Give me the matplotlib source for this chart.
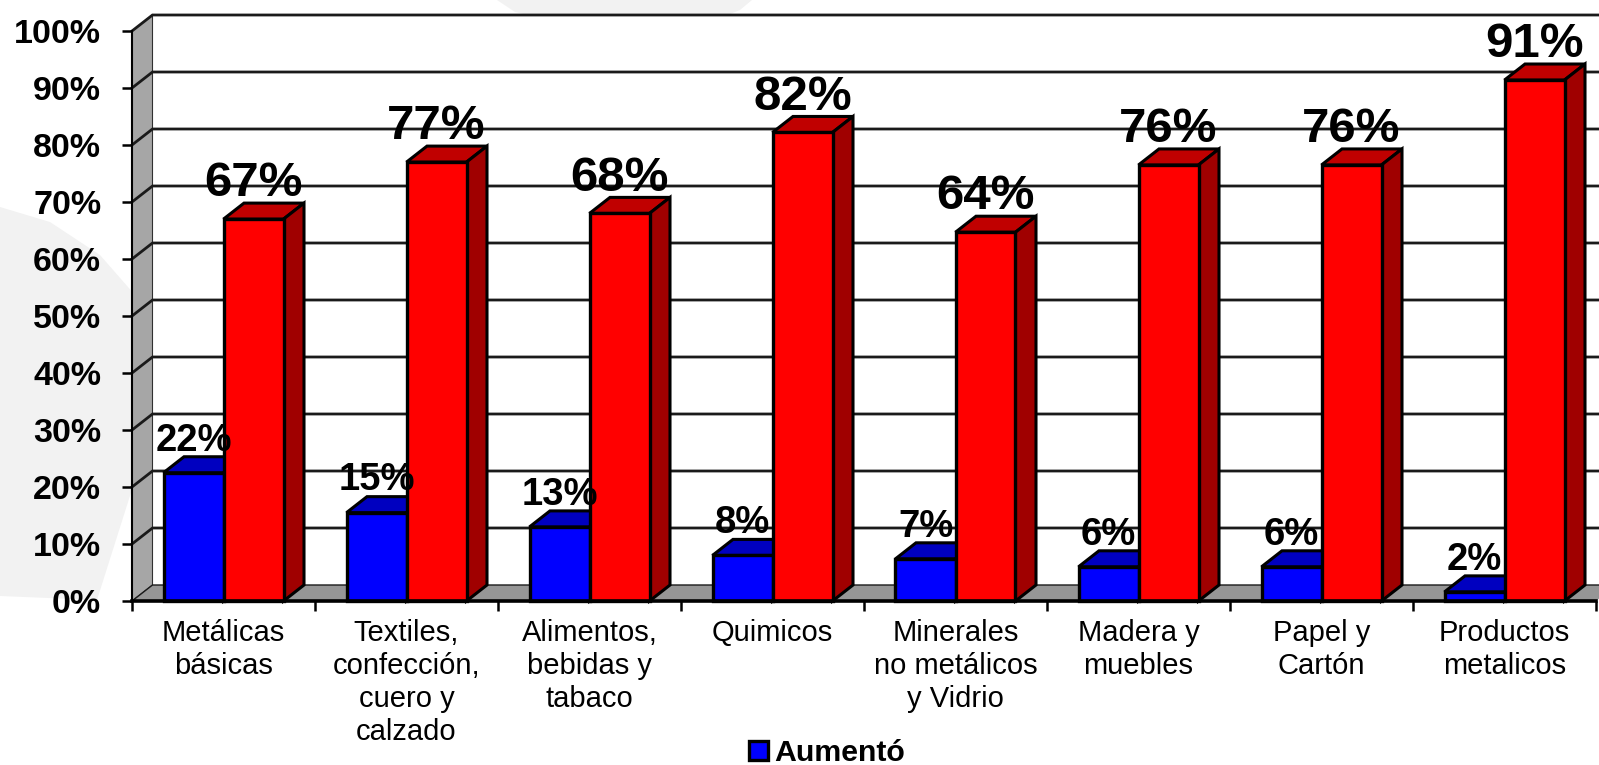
import numpy as np
import matplotlib
matplotlib.use("Agg")
import matplotlib.pyplot as plt
from matplotlib.patches import Patch, Polygon

categories = ["Metálicas\nbásicas", "Textiles,\nconfección,\ncuero y\ncalzado", "Alimentos,\nbebidas y\ntabaco",
              "Quimicos", "Minerales\nno metálicos\ny Vidrio", "Madera y\nmuebles", "Papel y\nCartón",
              "Productos\nmetalicos"]
aumento = [22.5, 15.5, 13, 8, 7.4, 6, 6, 1.6]
aumento_labels = ["22%", "15%", "13%", "8%", "7%", "6%", "6%", "2%"]
otro = [67, 77, 68, 82.2, 64.7, 76.5, 76.5, 91.4]
otro_labels = ["67%", "77%", "68%", "82%", "64%", "76%", "76%", "91%"]
y_ticks = list(range(0, 101, 10))

W, H = 1599, 765
LEFT, RIGHT, TOP, BOTTOM = 132, 1596, 31, 601
DX = 20.5 / 183   # depth of the fake 3d, in category units
DY = 16 / 5.7     # same, in percent units
BAR_W = 60 / 183

plt.rcParams["font.family"] = ["Liberation Sans", "DejaVu Sans"]

fig = plt.figure(figsize=(W / 100, H / 100), dpi=100, facecolor="white")

# faint watermark behind the chart
bg = fig.add_axes([0, 0, 1, 1], zorder=0)
bg.set_xlim(0, W)
bg.set_ylim(H, 0)
bg.axis("off")
bg.add_patch(Polygon([(0, 207), (50, 222), (100, 255), (135, 295), (135, 480), (97, 600), (0, 596)],
                     facecolor="#f2f2f2", edgecolor="none"))
bg.add_patch(Polygon([(497, 0), (515, 12), (540, 18), (720, 18), (740, 10), (752, 0)],
                     facecolor="#f2f2f2", edgecolor="none"))

ax = fig.add_axes([LEFT / W, (H - BOTTOM) / H, (RIGHT - LEFT) / W, (BOTTOM - TOP) / H], zorder=1)
ax.patch.set_alpha(0)
ax.set_xlim(0, 8)
ax.set_ylim(0, 100)
for side in ["top", "right"]:
    ax.spines[side].set_visible(False)
ax.spines["left"].set_linewidth(1.5)
ax.spines["bottom"].set_linewidth(2.6)
ax.spines["left"].set_zorder(6)
ax.spines["bottom"].set_zorder(6)

# walls and floor
ax.add_patch(Polygon([(DX, DY), (8 + DX, DY), (8 + DX, 100 + DY), (DX, 100 + DY)],
                     facecolor="white", edgecolor="none", clip_on=False, zorder=1))
ax.add_patch(Polygon([(0, 0), (DX, DY), (DX, 100 + DY), (0, 100)],
                     facecolor="#a6a6a6", edgecolor="#303030", lw=0.8, clip_on=False, zorder=1))
ax.add_patch(Polygon([(0, 0), (8, 0), (8 + DX, DY), (DX, DY)],
                     facecolor="#969696", edgecolor="none", clip_on=False, zorder=1))
for v in y_ticks:
    ax.plot([0, DX, 8 + DX], [v, v + DY, v + DY], color="#1a1a1a", lw=2.0 if v else 1.0,
            clip_on=False, zorder=2, solid_joinstyle="miter")


def draw_bars(x_left, values, front, top, side, z):
    ax.bar(x_left, values, width=BAR_W, align="edge", color=front, edgecolor="black", lw=2.4,
           clip_on=False, zorder=z + 1)
    for x, v in zip(x_left, values):
        x2 = x + BAR_W
        ax.add_patch(Polygon([(x, v), (x2, v), (x2 + DX, v + DY), (x + DX, v + DY)], facecolor=top,
                             edgecolor="black", lw=2.2, clip_on=False, zorder=z, joinstyle="miter"))
        ax.add_patch(Polygon([(x2, 0), (x2 + DX, DY), (x2 + DX, v + DY), (x2, v)], facecolor=side,
                             edgecolor="black", lw=2.2, clip_on=False, zorder=z, joinstyle="miter"))


centers = np.arange(len(categories)) + 0.5
draw_bars(centers - BAR_W, aumento, "#0000ff", "#0000c0", "#000090", 3)
draw_bars(centers, otro, "#ff0000", "#c00000", "#a00000", 4)

for x, v, lab in zip(centers - BAR_W / 2, aumento, aumento_labels):
    ax.text(x, v + 3.9, lab, ha="center", va="baseline", fontsize=27.5, fontweight="bold", zorder=10, clip_on=False)
for x, v, lab in zip(centers + BAR_W / 2, otro, otro_labels):
    ax.text(x, v + 4.0, lab, ha="center", va="baseline", fontsize=35.5, fontweight="bold", zorder=10, clip_on=False)

ax.set_yticks(y_ticks)
ax.set_yticklabels([f"{v}%" for v in y_ticks], fontsize=24.5, fontweight="bold")
ax.tick_params(axis="y", length=7.2, width=1.8, pad=15)
ax.set_xticks(np.arange(0, 9))
ax.set_xticklabels([])
ax.tick_params(axis="x", length=7.2, width=1.8)
ax.set_xticks(centers, categories, minor=True, fontsize=21, linespacing=1.22)
ax.tick_params(axis="x", which="minor", length=0, pad=13)

fig.legend(handles=[Patch(facecolor="#0000ff", edgecolor="black", lw=2.4, label="Aumentó")],
           loc="lower left", bbox_to_anchor=(749 / W, -2 / H), frameon=False, borderpad=0, borderaxespad=0,
           handlelength=0.62, handleheight=0.62, handletextpad=0.2,
           prop={"size": 21.8, "weight": "bold"})

fig.savefig("out.png", dpi=100)
